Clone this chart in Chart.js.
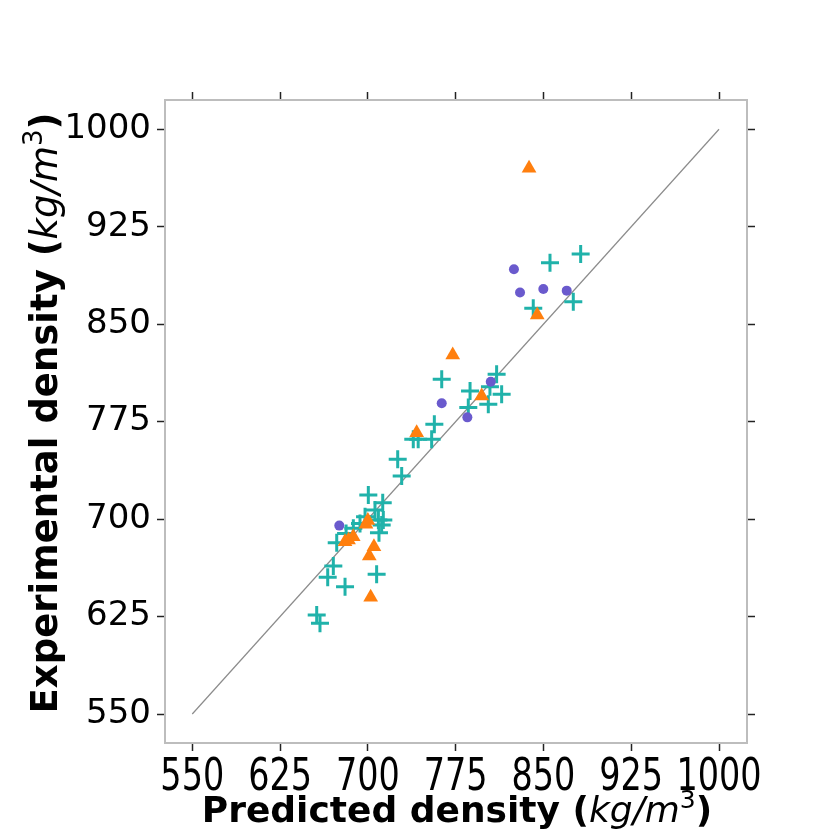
<!DOCTYPE html>
<html>
<head>
<meta charset="utf-8">
<script src="https://cdn.jsdelivr.net/npm/chart.js@4.4.1/dist/chart.umd.min.js"></script>
<style>
  html, body { margin: 0; padding: 0; background: #fff; }
  #wrap { width: 830px; height: 836px; }
</style>
</head>
<body>
<div id="wrap"><canvas id="myChart" width="830" height="836"></canvas></div>
<script>
// tick positions shared by both axes
var tickValues = [550, 625, 700, 775, 850, 925, 1000];

// parity line
var parityLine = [{x: 550, y: 550}, {x: 1000, y: 1000}];

// series 1: crosses (predicted, experimental)
var crossPred = [700.4, 712.7, 713.2, 709.5, 707.5, 670.5, 665.7, 680.5, 656.3, 659.1,
                 673.4, 681.4, 687.6, 693.3, 697.6, 706.1, 709, 711.8, 763.1, 787.3,
                 785.8, 810, 804.3, 802.9, 814.3, 756.8, 738.8, 743, 754.5, 725.5,
                 728.9, 855.6, 881.8, 875.5, 841.3];
var crossExp  = [718.5, 712.6, 699.3, 689.5, 657.5, 664, 655.2, 648, 626.2, 619.8,
                 681.8, 689, 692.9, 696.7, 701.8, 707, 699.3, 695.5, 807.6, 798.6,
                 785.8, 811.4, 801.9, 788.3, 796, 773, 761.4, 761.4, 761.4, 746,
                 733.2, 897.3, 904, 867.3, 862.2];

// series 2: circles
var circlePred = [675.6, 763.1, 785, 805, 824.8, 830, 849.9, 869.9];
var circleExp  = [695, 789.1, 778.3, 805.7, 892.3, 874.3, 877.1, 875.8];

// series 3: triangles
var triPred = [680.5, 683.5, 687.5, 698.4, 700, 705.2, 701.2, 702.4, 772.5, 797.2, 741.7, 837.7, 844.7];
var triExp  = [682.6, 684, 686.5, 696, 699, 678.8, 671.6, 639.8, 826.3, 794.7, 766.5, 970, 857];

function pairs(xs, ys) {
    return xs.map(function (x, i) { return {x: x, y: ys[i]}; });
}

var xMin = 526.7, xMax = 1023.9, yMin = 527.7, yMax = 1022.5;

function setTicks(scale) {
    scale.ticks = tickValues.map(function (v) { return {value: v}; });
}

var gridOpts = {
    display: true,
    drawOnChartArea: false,
    drawTicks: true,
    tickLength: 8,
    tickColor: '#222',
    tickWidth: 1.5
};
var borderOpts = {display: true, color: '#bdbdbd', width: 2};

// draws mixed bold / italic text centred on (0,0) of the current transform
function drawRich(ctx, parts) {
    var total = 0;
    parts.forEach(function (p) {
        ctx.font = p.font;
        p.w = ctx.measureText(p.text).width;
        total += p.w;
    });
    var x = -total / 2;
    parts.forEach(function (p) {
        ctx.font = p.font;
        ctx.fillText(p.text, x, p.dy || 0);
        x += p.w;
    });
}

function titleParts(label, size) {
    return [
        {text: label + ' (', font: 'bold ' + size + 'px "DejaVu Sans"'},
        {text: 'kg/m', font: 'italic ' + size + 'px "DejaVu Sans"'},
        {text: '3', font: Math.round(size * 0.7) + 'px "DejaVu Sans"', dy: -size * 0.4},
        {text: ')', font: 'bold ' + size + 'px "DejaVu Sans"'}
    ];
}

var labelsPlugin = {
    id: 'labelsPlugin',
    afterDraw: function (chart) {
        var ctx = chart.ctx;
        var xs = chart.scales.x;
        ctx.save();
        ctx.fillStyle = '#000';
        ctx.textAlign = 'center';
        ctx.textBaseline = 'alphabetic';
        // x tick labels (tall, narrow)
        tickValues.forEach(function (v) {
            ctx.save();
            ctx.translate(xs.getPixelForValue(v), 790);
            ctx.scale(0.76, 1);
            ctx.font = '44px "DejaVu Sans"';
            ctx.fillText(String(v), 0, 0);
            ctx.restore();
        });
        ctx.textAlign = 'left';
        // x title
        ctx.save();
        ctx.translate(457, 822);
        drawRich(ctx, titleParts('Predicted density', 36));
        ctx.restore();
        // y title
        ctx.save();
        ctx.translate(57, 413);
        ctx.rotate(-Math.PI / 2);
        drawRich(ctx, titleParts('Experimental density', 37));
        ctx.restore();
        ctx.restore();
    }
};

var ctx = document.getElementById('myChart').getContext('2d');

var myChart = new Chart(ctx, {
    type: 'scatter',
    data: {
        datasets: [
            {
                label: 'parity',
                type: 'line',
                data: parityLine,
                borderColor: '#8c8c8c',
                borderWidth: 1.2,
                pointRadius: 0,
                fill: false,
                order: 4
            },
            {
                label: 'cross',
                data: pairs(crossPred, crossExp),
                pointStyle: 'cross',
                pointRadius: 9,
                borderColor: '#20b2aa',
                backgroundColor: '#20b2aa',
                pointBorderWidth: 3,
                order: 3
            },
            {
                label: 'circle',
                data: pairs(circlePred, circleExp),
                pointStyle: 'circle',
                pointRadius: 5,
                borderWidth: 0,
                backgroundColor: '#6a5acd',
                borderColor: '#6a5acd',
                order: 2
            },
            {
                label: 'triangle',
                data: pairs(triPred, triExp),
                pointStyle: 'triangle',
                pointRadius: 8.5,
                borderWidth: 0,
                backgroundColor: '#ff7f0e',
                borderColor: '#ff7f0e',
                order: 1
            }
        ]
    },
    options: {
        responsive: false,
        animation: false,
        devicePixelRatio: 1,
        layout: {padding: {left: 0, top: 90, right: 73, bottom: 0}},
        plugins: {
            legend: {display: false},
            tooltip: {enabled: false}
        },
        scales: {
            x: {
                type: 'linear', position: 'bottom', min: xMin, max: xMax,
                afterBuildTicks: setTicks,
                afterFit: function (s) { s.height = 93; },
                ticks: {display: false},
                grid: gridOpts, border: borderOpts
            },
            x2: {
                type: 'linear', position: 'top', min: xMin, max: xMax,
                afterBuildTicks: setTicks,
                afterFit: function (s) { s.height = 10; },
                ticks: {display: false},
                grid: gridOpts, border: borderOpts
            },
            y: {
                type: 'linear', position: 'left', min: yMin, max: yMax,
                afterBuildTicks: setTicks,
                afterFit: function (s) { s.width = 165; },
                ticks: {
                    color: '#000',
                    padding: 6,
                    font: {family: 'DejaVu Sans', size: 34},
                    callback: function (v) { return String(v); }
                },
                grid: gridOpts, border: borderOpts
            },
            y2: {
                type: 'linear', position: 'right', min: yMin, max: yMax,
                afterBuildTicks: setTicks,
                afterFit: function (s) { s.width = 10; },
                ticks: {display: false},
                grid: gridOpts, border: borderOpts
            }
        }
    },
    plugins: [labelsPlugin]
});
</script>
</body>
</html>
